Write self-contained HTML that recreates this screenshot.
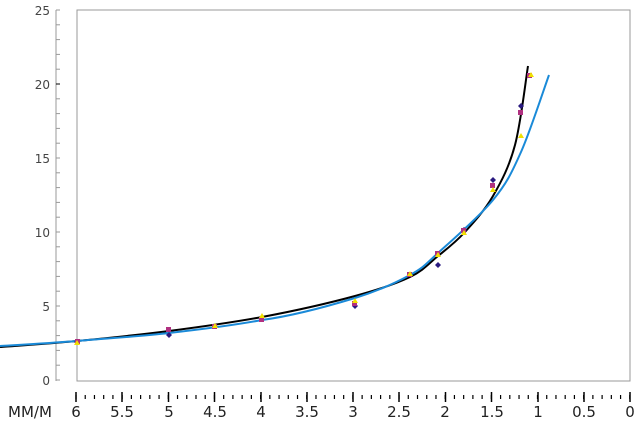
<!DOCTYPE html>
<html><head><meta charset="utf-8"><style>
body{margin:0;background:#fff;}
svg{display:block;font-family:"DejaVu Sans","Liberation Sans",sans-serif;}
</style></head><body>
<svg width="640" height="422" viewBox="0 0 640 422">
<rect x="77" y="10" width="553" height="371" fill="none" stroke="#999" stroke-width="1"/>
<line x1="56" y1="10" x2="56" y2="381" stroke="#999"/>
<g stroke="#999">
<line x1="56" y1="10" x2="60" y2="10"/><line x1="56" y1="24.8" x2="60" y2="24.8"/><line x1="56" y1="39.6" x2="60" y2="39.6"/><line x1="56" y1="54.4" x2="60" y2="54.4"/><line x1="56" y1="69.2" x2="60" y2="69.2"/><line x1="56" y1="84" x2="60" y2="84" stroke="#000"/><line x1="56" y1="98.8" x2="60" y2="98.8"/><line x1="56" y1="113.6" x2="60" y2="113.6"/><line x1="56" y1="128.4" x2="60" y2="128.4"/><line x1="56" y1="143.2" x2="60" y2="143.2"/><line x1="56" y1="158" x2="60" y2="158"/><line x1="56" y1="172.8" x2="60" y2="172.8"/><line x1="56" y1="187.6" x2="60" y2="187.6"/><line x1="56" y1="202.4" x2="60" y2="202.4"/><line x1="56" y1="217.2" x2="60" y2="217.2"/><line x1="56" y1="232" x2="60" y2="232"/><line x1="56" y1="246.8" x2="60" y2="246.8"/><line x1="56" y1="261.6" x2="60" y2="261.6"/><line x1="56" y1="276.4" x2="60" y2="276.4"/><line x1="56" y1="291.2" x2="60" y2="291.2"/><line x1="56" y1="306" x2="60" y2="306"/><line x1="56" y1="320.8" x2="60" y2="320.8"/><line x1="56" y1="335.6" x2="60" y2="335.6"/><line x1="56" y1="350.4" x2="60" y2="350.4"/><line x1="56" y1="365.2" x2="60" y2="365.2"/><line x1="56" y1="380" x2="60" y2="380"/>
</g>
<g font-size="12" fill="#444" text-anchor="end">
<text x="50" y="15">25</text><text x="50" y="89">20</text><text x="50" y="163">15</text><text x="50" y="237">10</text><text x="50" y="311">5</text><text x="50" y="385">0</text>
</g>
<g stroke="#000" stroke-width="1.5">
<line x1="76" y1="392" x2="76" y2="402"/>
<line x1="122" y1="392" x2="122" y2="402"/>
<line x1="168.5" y1="392" x2="168.5" y2="402"/>
<line x1="214.5" y1="392" x2="214.5" y2="402"/>
<line x1="261" y1="392" x2="261" y2="402"/>
<line x1="307" y1="392" x2="307" y2="402"/>
<line x1="353" y1="392" x2="353" y2="402"/>
<line x1="399" y1="392" x2="399" y2="402"/>
<line x1="445.5" y1="392" x2="445.5" y2="402"/>
<line x1="491.5" y1="392" x2="491.5" y2="402"/>
<line x1="538" y1="392" x2="538" y2="402"/>
<line x1="584" y1="392" x2="584" y2="402"/>
<line x1="630" y1="392" x2="630" y2="402"/>
</g>
<path d="M75.4 397 H631" stroke="#000" stroke-width="4" fill="none" stroke-dasharray="1.2 8.03"/>
<g font-size="15" fill="#222" text-anchor="middle">
<text x="30" y="417">MM/M</text>
<text x="76" y="417">6</text><text x="122" y="417">5.5</text><text x="169" y="417">5</text><text x="215" y="417">4.5</text><text x="261" y="417">4</text><text x="307" y="417">3.5</text><text x="353" y="417">3</text><text x="399" y="417">2.5</text><text x="445" y="417">2</text><text x="492" y="417">1.5</text><text x="538" y="417">1</text><text x="584" y="417">0.5</text><text x="630" y="417">0</text>
</g>
<path d="M0 347 C12.8 346 48.8 343.7 77 341 C105.2 338.3 138.2 335 169 331 C199.8 327 231 322.8 262 317 C293 311.2 330.3 302.7 355 296 C379.7 289.3 396.2 283.7 410 277 C423.8 270.3 429 263.3 438 256 C447 248.7 454.8 243 464 233 C473.2 223 484.5 210.7 493 196 C501.5 181.3 509.2 166.7 515 145 C520.8 123.3 525.8 79.2 528 66" fill="none" stroke="#000" stroke-width="2"/>
<path d="M0 346 C12.8 345.2 48.8 343.2 77 341 C105.2 338.5 138.2 336.5 169 333 C199.8 329.5 231 325.8 262 320 C293 315.8 330.3 305.5 355 298 C379.7 290.5 396.2 282.5 410 275 C423.8 267.5 424.2 265.5 438 253 C451.8 240.5 479.2 216.8 493 200 C506.8 183.2 511.7 172.8 521 152 C530.3 131.2 544.3 87.8 549 75" fill="none" stroke="#1a8ad8" stroke-width="2"/>
<g fill="#2a1a80">
<path d="M77 339 l3 3 -3 3 -3 -3z"/><path d="M169 332 l3 3 -3 3 -3 -3z"/><path d="M438 262 l3 3 -3 3 -3 -3z"/><path d="M464 227 l3 3 -3 3 -3 -3z"/><path d="M493 177 l3 3 -3 3 -3 -3z"/><path d="M521 103 l3 3 -3 3 -3 -3z"/><path d="M355 303 l3 3 -3 3 -3 -3z"/>
</g>
<g fill="#b03080">
<rect x="166" y="327" width="5" height="5"/><rect x="212" y="324" width="5" height="5"/><rect x="259" y="317" width="5" height="5"/><rect x="352" y="301" width="5" height="5"/><rect x="407" y="272" width="5" height="5"/><rect x="435" y="251" width="5" height="5"/><rect x="461" y="228" width="5" height="5"/><rect x="490" y="183" width="5" height="5"/><rect x="518" y="110" width="5" height="5"/><rect x="527" y="73" width="5" height="5"/><rect x="75" y="339" width="5" height="5"/>
</g>
<g fill="#f0e000">
<path d="M77 340 l3 5 h-6z"/><path d="M215 323 l3 5 h-6z"/><path d="M262 313 l3 5 h-6z"/><path d="M355 298 l3 5 h-6z"/><path d="M410 271 l3 5 h-6z"/><path d="M438 252 l3 5 h-6z"/><path d="M464 230 l3 5 h-6z"/><path d="M493 187 l3 5 h-6z"/><path d="M521 133 l3 5 h-6z"/><path d="M531 72 l3 5 h-6z"/>
</g>
</svg>
</body></html>
